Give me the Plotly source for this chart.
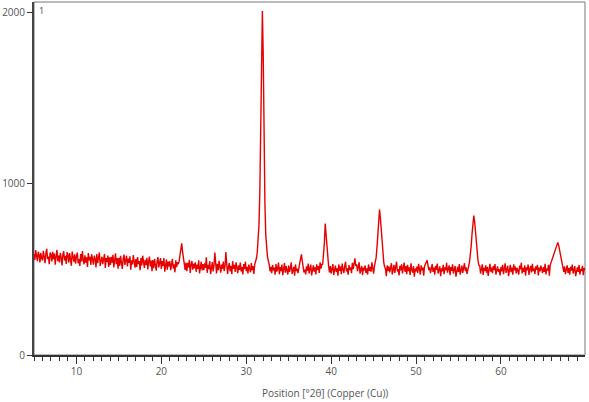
import numpy as np
import plotly.graph_objects as go

# 2theta grid: 5.0 .. 69.9 in 0.1 deg steps (one row of counts per degree below)
two_theta_start = 5.0
two_theta_step = 0.1

counts_by_degree = [
    [590, 555, 612, 570, 548, 603, 585, 541, 596, 566],  # 5
    [552, 608, 581, 537, 594, 620, 560, 575, 531, 598],  # 6
    [587, 546, 603, 560, 592, 528, 575, 615, 549, 580],  # 7
    [541, 596, 570, 523, 588, 606, 552, 579, 532, 601],  # 8
    [583, 540, 596, 559, 521, 604, 570, 545, 588, 533],  # 9
    [575, 598, 536, 560, 520, 589, 547, 607, 553, 530],  # 10
    [582, 539, 570, 515, 596, 553, 574, 526, 588, 545],  # 11
    [528, 580, 562, 511, 590, 537, 569, 599, 520, 556],  # 12
    [574, 531, 560, 590, 508, 566, 543, 581, 515, 570],  # 13
    [526, 573, 540, 585, 512, 559, 594, 531, 566, 504],  # 14
    [568, 521, 579, 540, 503, 561, 587, 526, 552, 580],  # 15
    [517, 563, 538, 576, 498, 553, 529, 584, 545, 510],  # 16
    [560, 514, 572, 531, 549, 495, 566, 523, 580, 541],  # 17
    [509, 556, 527, 568, 500, 545, 575, 518, 552, 490],  # 18
    [554, 507, 561, 525, 492, 548, 571, 512, 539, 566],  # 19
    [503, 549, 521, 566, 487, 536, 557, 499, 545, 517],  # 20
    [548, 496, 537, 562, 505, 529, 483, 553, 514, 541],  # 21
    [531, 548, 585, 632, 652, 604, 558, 522, 497, 540],  # 22
    [489, 538, 512, 556, 480, 527, 549, 498, 533, 506],  # 23
    [541, 486, 528, 503, 553, 476, 520, 545, 494, 531],  # 24
    [495, 536, 509, 571, 480, 527, 502, 548, 473, 519],  # 25
    [543, 488, 522, 598, 506, 476, 533, 495, 550, 512],  # 26
    [481, 528, 505, 546, 490, 519, 601, 532, 474, 514],  # 27
    [537, 489, 520, 472, 548, 503, 527, 485, 541, 510],  # 28
    [478, 524, 497, 540, 488, 513, 470, 531, 502, 545],  # 29
    [490, 515, 476, 528, 502, 483, 537, 495, 519, 473],  # 30
    [530, 545, 565, 600, 660, 760, 950, 1300, 1800, 2010],  # 31
    [1750, 1250, 880, 700, 620, 575, 550, 530, 489, 515],  # 32
    [478, 526, 494, 511, 469, 532, 487, 505, 540, 472],  # 33
    [513, 490, 528, 466, 502, 537, 481, 519, 495, 470],  # 34
    [522, 486, 508, 541, 474, 497, 515, 463, 529, 490],  # 35
    [505, 478, 520, 536, 562, 588, 548, 510, 483, 499],  # 36
    [471, 518, 492, 534, 476, 506, 528, 465, 501, 523],  # 37
    [487, 512, 470, 530, 496, 519, 480, 541, 505, 528],  # 38
    [530, 575, 650, 768, 700, 620, 560, 520, 482, 520],  # 39
    [476, 510, 531, 468, 495, 522, 485, 507, 463, 529],  # 40
    [491, 517, 472, 534, 500, 479, 520, 544, 488, 506],  # 41
    [469, 525, 497, 512, 478, 538, 502, 556, 565, 521],  # 42
    [530, 489, 514, 542, 476, 503, 520, 467, 511, 494],  # 43
    [523, 480, 506, 470, 529, 492, 515, 486, 541, 508],  # 44
    [475, 519, 540, 570, 630, 710, 800, 850, 800, 720],  # 45
    [640, 580, 540, 515, 503, 461, 524, 492, 517, 483],  # 46
    [509, 536, 471, 498, 526, 480, 513, 545, 488, 502],  # 47
    [465, 521, 494, 530, 477, 508, 540, 486, 519, 472],  # 48
    [527, 490, 512, 468, 535, 499, 481, 520, 457, 505],  # 49
    [488, 516, 479, 532, 501, 470, 524, 495, 511, 463],  # 50
    [519, 530, 548, 553, 527, 496, 512, 478, 506, 531],  # 51
    [485, 510, 470, 521, 497, 534, 476, 503, 518, 461],  # 52
    [507, 489, 527, 472, 512, 495, 538, 481, 500, 524],  # 53
    [467, 513, 491, 529, 476, 504, 520, 458, 498, 515],  # 54
    [486, 531, 470, 508, 522, 479, 501, 536, 490, 512],  # 55
    [474, 515, 520, 545, 585, 640, 710, 780, 815, 780],  # 56
    [720, 650, 590, 550, 525, 521, 476, 503, 530, 468],  # 57
    [509, 492, 524, 481, 515, 462, 500, 533, 487, 510],  # 58
    [478, 520, 496, 531, 470, 507, 518, 485, 502, 465],  # 59
    [514, 489, 527, 472, 505, 536, 480, 498, 521, 460],  # 60
    [503, 526, 484, 511, 469, 530, 495, 517, 476, 508],  # 61
    [491, 470, 522, 500, 538, 477, 509, 486, 524, 463],  # 62
    [512, 495, 529, 468, 504, 520, 482, 533, 490, 506],  # 63
    [473, 518, 497, 527, 465, 510, 489, 522, 502, 479],  # 64
    [514, 486, 532, 471, 505, 494, 527, 463, 525, 540],  # 65
    [555, 570, 585, 600, 620, 640, 650, 658, 640, 615],  # 66
    [590, 565, 545, 525, 486, 518, 472, 500, 524, 480],  # 67
    [507, 469, 515, 493, 528, 476, 502, 519, 461, 498],  # 68
    [512, 485, 526, 470, 503, 491, 521, 466, 508, 495],  # 69
]

x_ticks = [10, 20, 30, 40, 50, 60]
y_ticks = [0, 1000, 2000]
x_title = "Position [°2θ] (Copper (Cu))"
scan_label = "1"

counts = [c for row in counts_by_degree for c in row]
two_theta = np.round(two_theta_start + two_theta_step * np.arange(len(counts)), 2)

fig = go.Figure(go.Scatter(
    x=two_theta, y=counts, mode="lines",
    line=dict(color="#e60000", width=1.4),
    hoverinfo="skip",
))

font = dict(family="Open Sans, Noto Sans, sans-serif", size=10, color="#555")
fig.update_layout(
    width=589, height=402,
    margin=dict(l=32, r=4, t=2, b=47),
    paper_bgcolor="white", plot_bgcolor="white",
    showlegend=False, font=font,
    xaxis=dict(
        range=[5.0, 69.9], tickvals=x_ticks, ticks="outside", ticklen=7,
        tickcolor="#333", tickwidth=1, showgrid=False, zeroline=False,
        showline=True, linecolor="#333", linewidth=2, ticklabelstandoff=-1,
        minor=dict(dtick=1, ticks="outside", ticklen=4, tickcolor="#333", showgrid=False),
    ),
    yaxis=dict(
        range=[0, 2062], tickvals=y_ticks, ticks="outside", ticklen=5,
        tickcolor="#333", tickwidth=1, showgrid=False, zeroline=False,
        showline=True, linecolor="#444", linewidth=2,
    ),
    shapes=[dict(type="rect", xref="paper", yref="paper", x0=0, x1=1, y0=0, y1=1,
                 line=dict(color="#777", width=1), layer="below")],
    annotations=[
        dict(text=x_title, xref="paper", yref="paper", x=0.528, y=-0.108,
             xanchor="center", yanchor="middle", showarrow=False, font=font),
        dict(text=scan_label, xref="paper", yref="paper", x=0.005, y=1.0,
             xanchor="left", yanchor="top", showarrow=False,
             font=dict(family="Open Sans, sans-serif", size=9, color="#444")),
    ],
)

# the page body has an 8px default margin; drop it so the figure sits at the window corner
fig.write_html("out.html", config={"displayModeBar": False},
               post_script="document.body.style.margin='0';")
